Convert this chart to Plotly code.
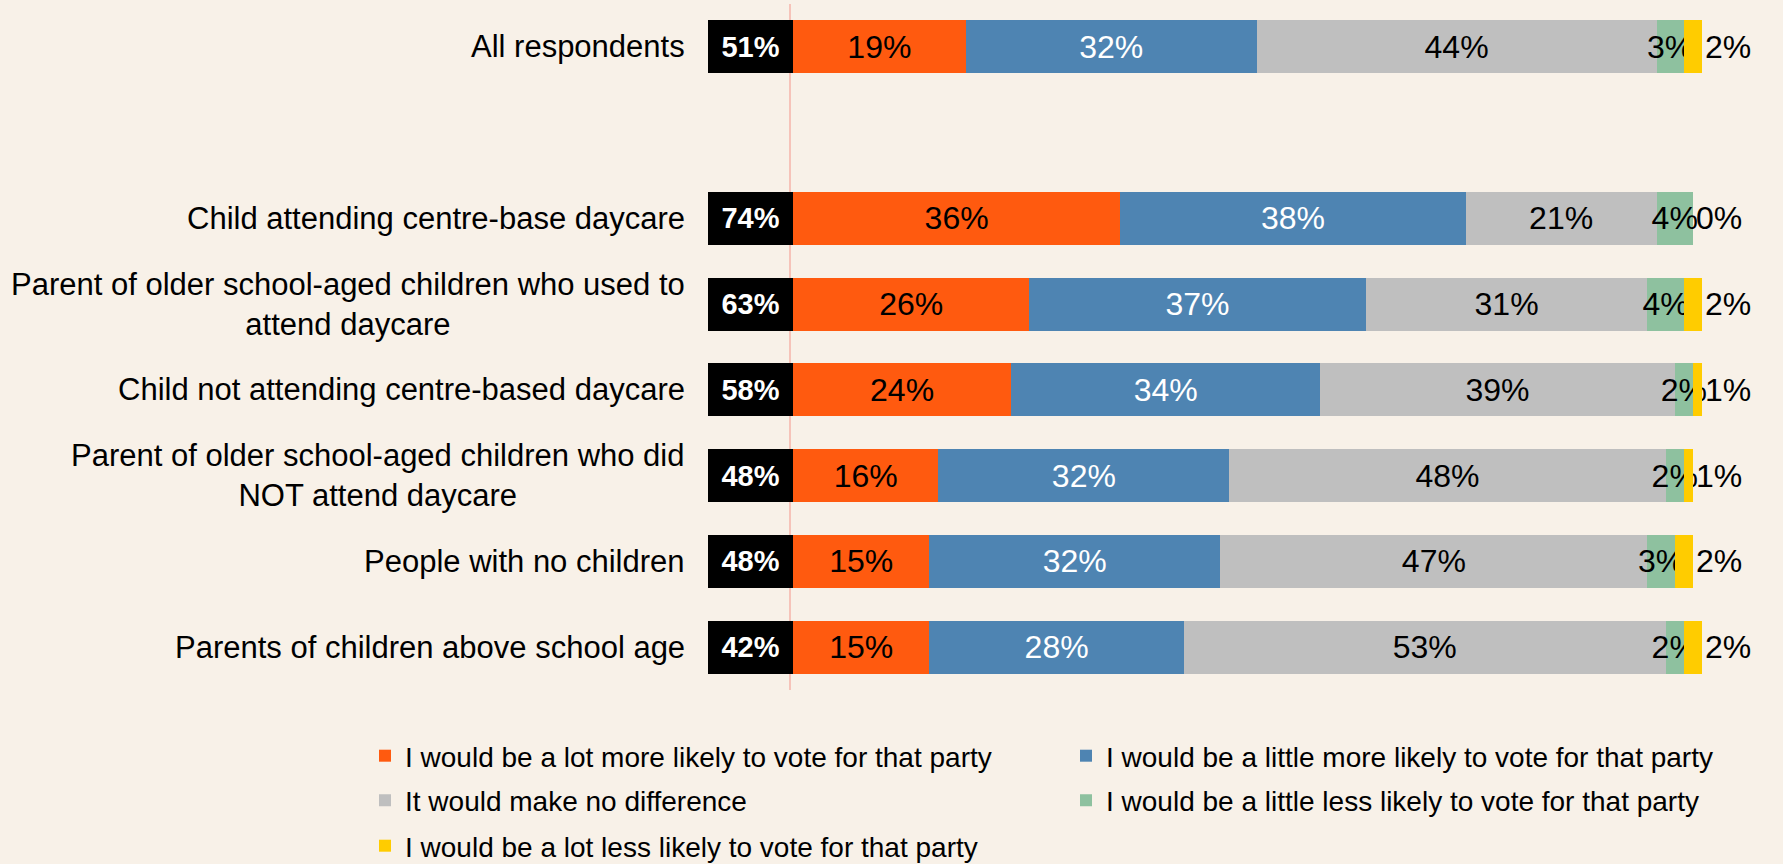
import plotly.graph_objects as go

# Survey groups (top to bottom); a blank slot separates the overall row
groups = [
    "All respondents",
    "Child attending centre-base daycare",
    "Parent of older school-aged children who used to<br>attend daycare",
    "Child not attending centre-based daycare",
    "Parent of older school-aged children who did<br>NOT attend daycare",
    "People with no children",
    "Parents of children above school age",
]
spacer = " "
category_order = [groups[0], spacer] + groups[1:]

# Net "more likely" share shown in the black box
net_more_likely = [51, 74, 63, 58, 48, 48, 42]

# Response shares (%)
lot_more = [19, 36, 26, 24, 16, 15, 15]
little_more = [32, 38, 37, 34, 32, 32, 28]
no_difference = [44, 21, 31, 39, 48, 47, 53]
little_less = [3, 4, 4, 2, 2, 3, 2]
lot_less = [2, 0, 2, 1, 1, 2, 2]

series_names = [
    "I would be a lot more likely to vote for that party",
    "I would be a little more likely to vote for that party",
    "It would make no difference",
    "I would be a little less likely to vote for that party",
    "I would be a lot less likely to vote for that party",
]

BG = "#F8F1E8"
FONT = "Liberation Sans"
COLORS = ["#FF5A0F", "#4E84B2", "#BFBFBF", "#8EC19F", "#FFCC00"]
TEXT_COLORS = ["#000000", "#FFFFFF", "#000000", "#000000", "#000000"]

# Pixel geometry of the plot area
W, H = 1783, 864
LEFT_PX, TOP_PX, BOTTOM_PX = 700, 4, 690
ZERO_PX, HUNDRED_PX = 793, 1702
px_per_unit = (HUNDRED_PX - ZERO_PX) / 100.0
x_min = (LEFT_PX - ZERO_PX) / px_per_unit
x_max = (W - ZERO_PX) / px_per_unit
box_width = 85 / px_per_unit

# Legend grid: two columns, three rows (pixel anchors)
LEG_COL_X = [365, 1066]
LEG_ROW_Y = [756, 800.5, 846]
legend_slots = [(0, 0), (0, 1), (1, 0), (1, 1), (2, 0)]
legend_ids = ["legend", "legend2", "legend3", "legend4", "legend5"]

fig = go.Figure()

# Black net-score boxes to the left of the zero line
fig.add_trace(go.Bar(
    y=groups, x=[box_width] * len(groups), base=[-box_width] * len(groups),
    orientation="h", marker=dict(color="#000000", line=dict(width=0)),
    text=[f"{v}%" for v in net_more_likely], textposition="inside",
    insidetextanchor="middle", textangle=0, constraintext="none",
    textfont=dict(family=FONT, size=29, color="#FFFFFF", weight="bold"),
    width=0.62, showlegend=False, hoverinfo="skip",
))

all_series = [lot_more, little_more, no_difference, little_less, lot_less]
for i, (name, vals) in enumerate(zip(series_names, all_series)):
    is_last = i == len(all_series) - 1
    fig.add_trace(go.Bar(
        y=groups, x=vals, name=name, orientation="h",
        marker=dict(color=COLORS[i], line=dict(width=0)),
        text=[f"{v}%" for v in vals],
        textposition="outside" if is_last else "inside",
        insidetextanchor="middle", textangle=0, constraintext="none",
        textfont=dict(family=FONT, size=32, color=TEXT_COLORS[i]),
        outsidetextfont=dict(family=FONT, size=32, color="#000000"),
        width=0.62, legend=legend_ids[i], cliponaxis=False,
    ))

# Category labels: right-aligned block, centred lines
for g in groups:
    fig.add_annotation(
        x=-box_width, y=g, xref="x", yref="y", text=g, showarrow=False,
        xanchor="right", yanchor="middle", align="center", xshift=-21,
        font=dict(family=FONT, size=31, color="#000000"),
    )

# Thin reference line at zero, behind the bars
fig.add_shape(
    type="line", xref="x", yref="paper", x0=-0.33, x1=-0.33, y0=0, y1=1,
    line=dict(color="#F6B3AA", width=1.5), layer="below",
)

legend_layouts = {}
for lid, (r, c) in zip(legend_ids, legend_slots):
    legend_layouts[lid] = dict(
        orientation="h", xref="container", yref="container",
        xanchor="left", yanchor="middle",
        x=LEG_COL_X[c] / W, y=1 - LEG_ROW_Y[r] / H,
        bgcolor="rgba(0,0,0,0)",
        font=dict(family=FONT, size=28, color="#000000"),
    )

fig.update_layout(
    width=W, height=H,
    paper_bgcolor=BG, plot_bgcolor=BG,
    margin=dict(l=LEFT_PX, r=0, t=TOP_PX, b=H - BOTTOM_PX, pad=0),
    barmode="stack", bargap=0.38,
    xaxis=dict(range=[x_min, x_max], visible=False, fixedrange=True),
    yaxis=dict(
        type="category", categoryorder="array", categoryarray=category_order,
        range=[len(category_order) - 0.5, -0.5], showticklabels=False,
        showgrid=False, zeroline=False, showline=False, ticks="",
    ),
    showlegend=True,
    **legend_layouts,
)

fig.write_html("out.html")
